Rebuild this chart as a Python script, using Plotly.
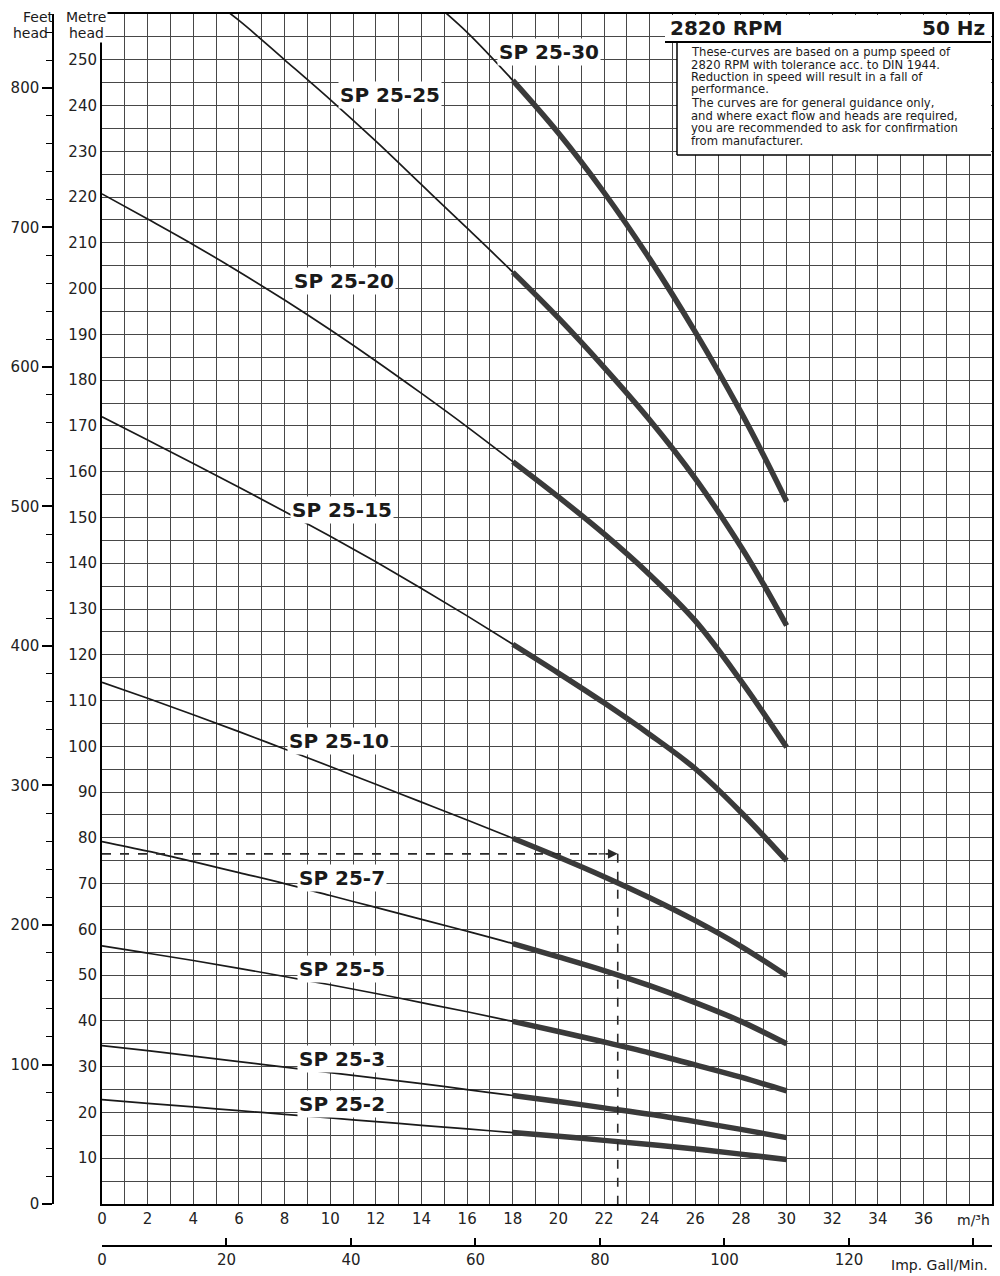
import plotly.graph_objects as go

W, H = 1000, 1276

# ---------------- data ----------------
pumps = ["SP 25-30", "SP 25-25", "SP 25-20", "SP 25-15", "SP 25-10",
         "SP 25-7", "SP 25-5", "SP 25-3", "SP 25-2"]

flow_sp25_30 = [14, 16, 18, 20, 22, 24, 26, 28, 29, 30]
head_sp25_30 = [264.8, 256, 245.5, 234, 221, 206.5, 190.5, 173, 163.5, 153.5]

flow_sp25_25 = [4, 6, 8, 10, 12, 14, 16, 18, 20, 22, 24, 26, 28, 29, 30]
head_sp25_25 = [266.1, 258.6, 250, 241.3, 232.2, 222.7, 213.2, 203.6, 193.6, 182.8,
                171.3, 158.5, 143.6, 135.3, 126.4]

flow_sp25_20 = [0, 2, 4, 6, 8, 10, 12, 14, 16, 18, 20, 22, 24, 26, 28, 30]
head_sp25_20 = [220.7, 215.2, 209.6, 203.7, 197.5, 191, 184.2, 177.1, 169.8, 162.2,
                154.5, 146.4, 137.5, 127.4, 114.3, 99.8]

flow_sp25_15 = [0, 2, 4, 6, 8, 10, 12, 14, 16, 18, 20, 22, 24, 26, 28, 30]
head_sp25_15 = [172, 166.9, 161.8, 156.6, 151.3, 145.9, 140.3, 134.5, 128.5, 122.3,
                116, 109.5, 102.6, 95.1, 85.6, 75]

flow_sp25_10 = [0, 2, 4, 6, 8, 10, 12, 14, 16, 18, 20, 22, 24, 26, 28, 30]
head_sp25_10 = [114, 110.5, 106.9, 103.2, 99.4, 95.6, 91.7, 87.8, 83.9, 79.9,
                75.8, 71.5, 66.9, 61.9, 56.3, 49.9]

flow_sp25_7 = [0, 2, 4, 6, 8, 10, 12, 14, 16, 18, 20, 22, 24, 26, 28, 30]
head_sp25_7 = [79.2, 77.1, 74.8, 72.4, 70, 67.4, 64.8, 62.2, 59.6, 56.9,
               54, 51, 47.7, 44, 39.9, 35]

flow_sp25_5 = [0, 2, 4, 6, 8, 10, 12, 14, 16, 18, 20, 22, 24, 26, 28, 30]
head_sp25_5 = [56.4, 54.8, 53.2, 51.5, 49.7, 47.9, 46, 44, 42, 39.9,
               37.7, 35.4, 33, 30.4, 27.7, 24.7]

flow_sp25_3 = [0, 2, 4, 6, 8, 10, 12, 14, 16, 18, 20, 22, 24, 26, 28, 30]
head_sp25_3 = [34.6, 33.5, 32.3, 31.1, 29.9, 28.7, 27.5, 26.3, 25.0, 23.7,
               22.4, 21.0, 19.6, 18.0, 16.3, 14.5]

flow_sp25_2 = [0, 2, 4, 6, 8, 10, 12, 14, 16, 18, 20, 22, 24, 26, 28, 30]
head_sp25_2 = [22.8, 22.0, 21.2, 20.4, 19.6, 18.8, 18.0, 17.2, 16.4, 15.6,
               14.8, 13.9, 13.0, 12.0, 10.9, 9.7]

recommended_min_flow = 18          # thick (recommended) part of each curve starts here
example_flow = 22.6                # dashed reading example
example_head = 76.5

x_tick_values = list(range(0, 37, 2))
x_tick_labels = [str(v) for v in x_tick_values]
metre_tick_values = list(range(10, 251, 10))
feet_tick_values = list(range(0, 801, 100))
gpm_tick_values = [0, 20, 40, 60, 80, 100, 120, 140]
gpm_tick_labels = ["0", "20", "40", "60", "80", "100", "120", ""]

label_pos = {  # (flow, head) where each curve label is written
    "SP 25-30": (19.6, 251.8), "SP 25-25": (12.6, 242.2), "SP 25-20": (10.6, 201.7),
    "SP 25-15": (10.5, 151.6), "SP 25-10": (10.4, 101.1), "SP 25-7": (10.5, 71.3),
    "SP 25-5": (10.5, 51.4), "SP 25-3": (10.5, 31.7), "SP 25-2": (10.5, 21.9),
}

flows = [flow_sp25_30, flow_sp25_25, flow_sp25_20, flow_sp25_15, flow_sp25_10,
         flow_sp25_7, flow_sp25_5, flow_sp25_3, flow_sp25_2]
heads = [head_sp25_30, head_sp25_25, head_sp25_20, head_sp25_15, head_sp25_10,
         head_sp25_7, head_sp25_5, head_sp25_3, head_sp25_2]

X_MAX, Y_MAX = 39, 260
M3H_TO_GPM = 1000 / 4.54609 / 60
M_TO_FT = 1 / 0.3048

FONT = "DejaVu Sans"
INK = "#1a1a1a"
GRID = "#474747"

def px(xp):
    return xp / W

def py(yp):
    return 1 - yp / H

fig = go.Figure()

for name, q, h in zip(pumps, flows, heads):
    fig.add_trace(go.Scatter(x=q, y=h, mode="lines", name=name,
                             line=dict(color=INK, width=1.7, shape="spline", smoothing=1.0),
                             hoverinfo="skip", showlegend=False))
    qq = [a for a in q if a >= recommended_min_flow]
    hh = [b for a, b in zip(q, h) if a >= recommended_min_flow]
    fig.add_trace(go.Scatter(x=qq, y=hh, mode="lines", name=name + " (rec.)",
                             line=dict(color="#3a3a3a", width=5.5, shape="spline", smoothing=1.0),
                             hoverinfo="skip", showlegend=False))

# reading example (dashed)
fig.add_trace(go.Scatter(x=[0, example_flow], y=[example_head, example_head], mode="lines",
                         line=dict(color="#2a2a2a", width=1.6, dash="dash"),
                         hoverinfo="skip", showlegend=False))
fig.add_trace(go.Scatter(x=[example_flow, example_flow], y=[example_head, 0], mode="lines",
                         line=dict(color="#2a2a2a", width=1.6, dash="dash"),
                         hoverinfo="skip", showlegend=False))

# invisible trace binding the secondary (feet / gallons) scales
fig.add_trace(go.Scatter(x=[v * M3H_TO_GPM for v in flow_sp25_2],
                         y=[v * M_TO_FT for v in head_sp25_2],
                         xaxis="x2", yaxis="y2", mode="lines", opacity=0,
                         hoverinfo="skip", showlegend=False))

x_dom = [px(102), px(992)]
y_dom = [py(1204), py(14)]

fig.update_layout(
    width=W, height=H,
    template="none",
    paper_bgcolor="white", plot_bgcolor="white",
    margin=dict(l=0, r=0, t=0, b=0, autoexpand=False),
    font=dict(family=FONT, color="#222", size=15),
    showlegend=False,
    xaxis=dict(domain=x_dom, range=[0, X_MAX], tickvals=x_tick_values, ticktext=x_tick_labels,
               showgrid=True, gridcolor=GRID, gridwidth=1,
               minor=dict(dtick=1, tick0=0, showgrid=True, gridcolor=GRID, gridwidth=1),
               showline=True, mirror=True, linecolor="black", linewidth=2,
               ticks="", zeroline=False, automargin=False,
               tickfont=dict(family=FONT, size=15, color="#222"), anchor="y"),
    yaxis=dict(domain=y_dom, range=[0, Y_MAX], tickvals=metre_tick_values,
               showgrid=True, gridcolor=GRID, gridwidth=1,
               minor=dict(dtick=5, tick0=0, showgrid=True, gridcolor=GRID, gridwidth=1),
               showline=True, mirror=True, linecolor="black", linewidth=2,
               ticks="", zeroline=False, automargin=False,
               tickfont=dict(family=FONT, size=15, color="#222"), anchor="x"),
    yaxis2=dict(overlaying="y", anchor="free", position=px(53), side="left",
                range=[0, Y_MAX * M_TO_FT], tickvals=feet_tick_values,
                ticks="outside", ticklen=10, tickwidth=1.5, tickcolor="black",
                minor=dict(dtick=20, tick0=0, ticks="outside", ticklen=6, tickcolor="black", tickwidth=1.2),
                showline=True, linecolor="black", linewidth=1.5, showgrid=False, zeroline=False,
                automargin=False, tickfont=dict(family=FONT, size=15, color="#222")),
    xaxis2=dict(overlaying="x", anchor="free", position=py(1246), side="bottom",
                range=[0, X_MAX * M3H_TO_GPM], tickvals=gpm_tick_values, ticktext=gpm_tick_labels,
                ticks="inside", ticklen=7, tickwidth=1.5, tickcolor="black",
                showline=True, linecolor="black", linewidth=1.5, showgrid=False, zeroline=False,
                automargin=False, tickfont=dict(family=FONT, size=15, color="#222")),
)

shapes = []
# information box
shapes.append(dict(type="rect", xref="paper", yref="paper", x0=px(665), x1=px(991), y0=py(42), y1=py(15),
                   fillcolor="white", line=dict(width=0), layer="above"))
shapes.append(dict(type="rect", xref="paper", yref="paper", x0=px(677), x1=px(991), y0=py(155), y1=py(42),
                   fillcolor="white", line=dict(width=0), layer="above"))
shapes.append(dict(type="line", xref="paper", yref="paper", x0=px(665), x1=px(991), y0=py(42), y1=py(42),
                   line=dict(color="black", width=2)))
shapes.append(dict(type="line", xref="paper", yref="paper", x0=px(677), x1=px(677), y0=py(42), y1=py(155),
                   line=dict(color="black", width=1.5)))
shapes.append(dict(type="line", xref="paper", yref="paper", x0=px(677), x1=px(991), y0=py(155), y1=py(155),
                   line=dict(color="black", width=1.5)))
fig.update_layout(shapes=shapes)

ann = []
for name in pumps:
    lx, ly = label_pos[name]
    ann.append(dict(x=lx, y=ly, xref="x", yref="y", text="<b>%s</b>" % name, showarrow=False,
                    font=dict(family=FONT, size=20, color="#1a1a1a"), bgcolor="white", borderpad=1))

# arrow head of reading example
ann.append(dict(x=example_flow, y=example_head, xref="x", yref="y", ax=example_flow - 0.9, ay=example_head,
                axref="x", ayref="y", text="", showarrow=True, arrowhead=2, arrowsize=1.4,
                arrowwidth=1.4, arrowcolor="#2a2a2a"))

def paper_text(xp, yp, text, size, xanchor="center", bold=False, bg=None):
    d = dict(x=px(xp), y=py(yp), xref="paper", yref="paper",
             text=("<b>%s</b>" % text) if bold else text, showarrow=False,
             xanchor=xanchor, yanchor="middle",
             font=dict(family=FONT, size=size, color="#1a1a1a"))
    if bg:
        d["bgcolor"] = bg
    return d

ann.append(paper_text(668, 28, "2820 RPM", 20, xanchor="left", bold=True))
ann.append(paper_text(987, 28, "50 Hz", 20, xanchor="right", bold=True))

para = [
    ("These-curves are based on a pump speed of", 52),
    ("2820 RPM with tolerance acc. to DIN 1944.", 64.5),
    ("Reduction in speed will result in a fall of", 77),
    ("performance.", 89.5),
    ("The curves are for general guidance only,", 103),
    ("and where exact flow and heads are required,", 115.5),
    ("you are recommended to ask for confirmation", 128),
    ("from manufacturer.", 140.5),
]
for t, yy in para:
    ann.append(paper_text(689, yy, t, 11.6, xanchor="left"))

# axis captions
ann.append(paper_text(38, 17, "Feet", 14))
ann.append(paper_text(30, 33, "head", 14))
ann.append(paper_text(86, 17, "Metre", 14, bg="white"))
ann.append(paper_text(86, 33, "head", 14, bg="white"))
ann.append(paper_text(973, 1220, "m/³h", 14))
ann.append(paper_text(990, 1265, "Imp. Gall/Min.", 14, xanchor="right"))

fig.update_layout(annotations=ann)

fig.write_html("out.html",
               config={"displayModeBar": False},
               post_script="document.body.style.margin='0px';document.body.style.overflow='hidden';")
